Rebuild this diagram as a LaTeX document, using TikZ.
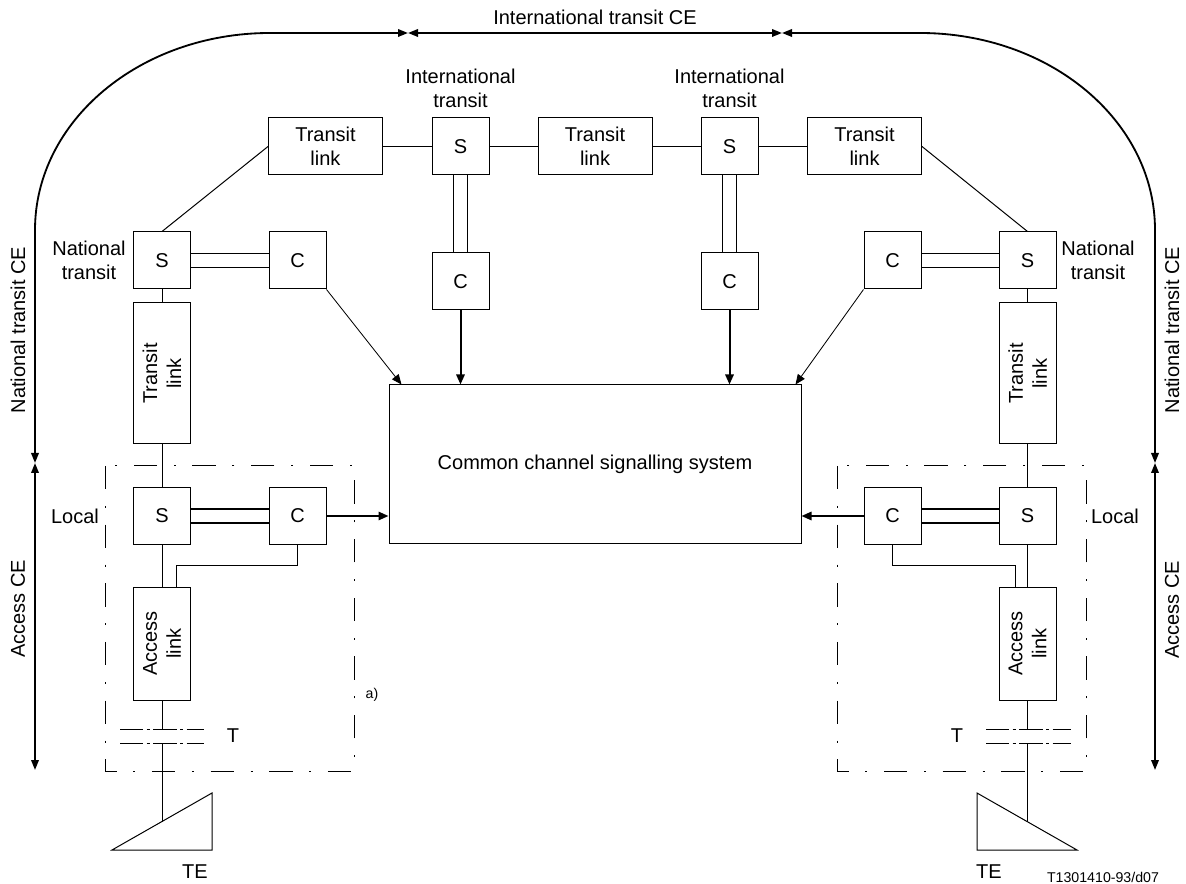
\documentclass[tikz,border=0pt]{standalone}
\usepackage{fontspec}
\setmainfont{Liberation Sans}
\usetikzlibrary{arrows.meta}
\tikzstyle{every node}=[font=\fontsize{12}{14.4}\selectfont]
\tikzstyle{box}=[draw,line width=0.6pt,inner sep=0pt,minimum width=34.2pt,minimum height=34.2pt]
\tikzstyle{hlink}=[box,minimum width=68.4pt,align=center]
\tikzstyle{vlink}=[box,rotate=90,align=center,minimum height=34.2pt]
\tikzstyle{dashdot box}=[line width=0.6pt,dash pattern=on 14pt off 10pt on 1.2pt off 10pt]
\tikzstyle{tline}=[line width=0.6pt,dash pattern=on 14pt off 2pt on 2pt off 2pt]
\tikzstyle{ce}=[line width=1.1pt,{Triangle[length=6pt,width=4.5pt]}-{Triangle[length=6pt,width=4.5pt]}]
\tikzstyle{sig}=[line width=1.2pt,-{Triangle[length=6pt,width=5pt]}]
\tikzstyle{thinsig}=[line width=0.5pt,-{Triangle[length=6pt,width=5pt]}]
\tikzstyle{small}=[font=\fontsize{8.5}{10}\selectfont]
\begin{document}
\begin{tikzpicture}[line cap=butt,line join=miter,x=0.6pt,y=-0.6pt]
\useasboundingbox (0,0) rectangle (1186,884);
% switching and control nodes
\node[box] (natSL) at (162,260.5) {S};
\node[box] (natCL) at (297.5,260.5) {C};
\node[hlink] (tlL) at (325.5,146.5) {Transit\\link};
\node[box] (intSL) at (460.5,146.5) {S};
\node[box] (intCL) at (460.5,281.5) {C};
\node[hlink] (tlM) at (595,146.5) {Transit\\link};
\node[box] (intSR) at (729.5,146.5) {S};
\node[box] (intCR) at (729.5,281.5) {C};
\node[hlink] (tlR) at (864.5,146.5) {Transit\\link};
\node[box] (natCR) at (892.5,260.5) {C};
\node[box] (natSR) at (1027.5,260.5) {S};
\node[vlink,minimum width=84.6pt] (vlL) at (162,373.5) {Transit\\link};
\node[vlink,minimum width=84.6pt] (vlR) at (1027.5,373.5) {Transit\\link};
\node[box] (locSL) at (162,516) {S};
\node[box] (locCL) at (297.5,516) {C};
\node[box] (locSR) at (1027.5,516) {S};
\node[box] (locCR) at (892.5,516) {C};
\node[vlink,minimum width=67.8pt] (alL) at (162,643.5) {Access\\link};
\node[vlink,minimum width=67.8pt] (alR) at (1027.5,643.5) {Access\\link};
\node[box,minimum width=247.2pt,minimum height=95.4pt] (ccs) at (595,464.5) {Common channel signalling system};
% labels
\node (ltCE) at (595,17) {International transit CE};
\node[align=center] (lIntL) at (460.5,88) {International\\transit};
\node[align=center] (lIntR) at (729.5,88) {International\\transit};
\node[align=center] (lNatL) at (89,260) {National\\transit};
\node[align=center] (lNatR) at (1098,260) {National\\transit};
\node (lLocL) at (75,516) {Local};
\node (lLocR) at (1115,516) {Local};
\node[rotate=90] (lNceL) at (18,330) {National transit CE};
\node[rotate=90] (lNceR) at (1172,330) {National transit CE};
\node[rotate=90] (lAceL) at (18,609) {Access CE};
\node[rotate=90] (lAceR) at (1172,610) {Access CE};
\node (lTL) at (233,736) {T};
\node (lTR) at (957,736) {T};
\node (lTEL) at (195,872) {TE};
\node (lTER) at (989,872) {TE};
\node[small] (la) at (372,695) {a)};
\node[small] (lref) at (1103,877) {T1301410-93/d07};
% CE extents
\coordinate (ceTL) at (408,33);
\coordinate (ceTR) at (782,33);
\coordinate (ceML) at (35,463);
\coordinate (ceBL) at (35,770);
\coordinate (ceMR) at (1155,463);
\coordinate (ceBR) at (1155,770);
\draw[ce] (ceML) -- (35,230) .. controls (35,121) and (140,33) .. (270,33) -- (ceTL);
\draw[ce] (ceTL) -- (ceTR);
\draw[ce] (ceTR) -- (920,33) .. controls (1050,33) and (1155,121) .. (1155,230) -- (ceMR);
\draw[ce] (ceML) -- (ceBL);
\draw[ce] (ceMR) -- (ceBR);
% transit chain
\draw[line width=0.6pt] (natSL.north) -- (tlL.west);
\draw[line width=0.6pt] (tlL) -- (intSL) -- (tlM) -- (intSR) -- (tlR);
\draw[line width=0.6pt] (tlR.east) -- (natSR.north);
\draw[line width=0.6pt] (natSL) -- (vlL) -- (locSL) -- (alL);
\draw[line width=0.6pt] (natSR) -- (vlR) -- (locSR) -- (alR);
% S-C pairs
\foreach \s in {-4.2,4.2}{
  \draw[line width=1pt] ([yshift=\s pt]natSL.east) -- ([yshift=\s pt]natCL.west);
  \draw[line width=1pt] ([yshift=\s pt]natSR.west) -- ([yshift=\s pt]natCR.east);
  \draw[line width=1pt] ([yshift=\s pt]locSL.east) -- ([yshift=\s pt]locCL.west);
  \draw[line width=1pt] ([yshift=\s pt]locSR.west) -- ([yshift=\s pt]locCR.east);
  \draw[line width=1pt] ([xshift=\s pt]intSL.south) -- ([xshift=\s pt]intCL.north);
  \draw[line width=1pt] ([xshift=\s pt]intSR.south) -- ([xshift=\s pt]intCR.north);
}
% signalling
\draw[sig] (intCL) -- (intCL |- ccs.north);
\draw[sig] (intCR) -- (intCR |- ccs.north);
\draw[sig] (locCL) -- (locCL -| ccs.west);
\draw[sig] (locCR) -- (locCR -| ccs.east);
\draw[thinsig] (natCL.south east) -- ([xshift=7.8pt]ccs.north west);
\draw[thinsig] (natCR.south west) -- ([xshift=-3.6pt]ccs.north east);
\draw[line width=0.6pt] (locCL.south) -- ++(0,21) -| ([xshift=8.4pt]alL.east);
\draw[line width=0.6pt] (locCR.south) -- ++(0,21) -| ([xshift=-7.5pt]alR.east);
% local areas
\draw[dashdot box] (105,466) rectangle (354,771);
\draw[dashdot box] (837,466) rectangle (1086,771);
\foreach \y in {729,743}{
  \draw[tline] (120,\y) -- (204,\y);
  \draw[tline] (986,\y) -- (1071,\y);
}
% terminal equipment
\coordinate (tL1) at (162,729);
\coordinate (tL2) at (162,743);
\coordinate (teL) at (162,821.5);
\coordinate (tR1) at (1027.5,729);
\coordinate (tR2) at (1027.5,743);
\coordinate (teR) at (1027.5,821.8);
\draw[line width=0.6pt] (alL) -- (tL1) (tL2) -- (teL);
\draw[line width=0.6pt] (alR) -- (tR1) (tR2) -- (teR);
\draw[line width=0.6pt] (112,850) -- (212,793) -- (212,850) -- cycle;
\draw[line width=0.6pt] (977,793) -- (1077,850) -- (977,850) -- cycle;
\end{tikzpicture}
\end{document}
